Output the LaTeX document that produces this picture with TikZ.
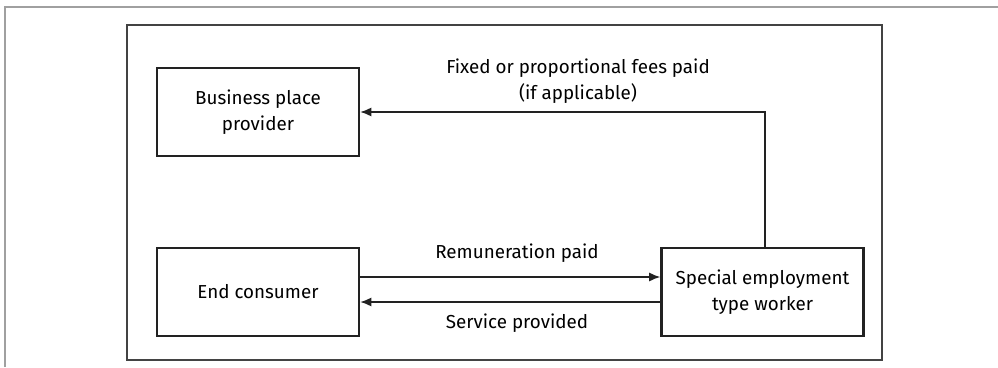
\documentclass[tikz,border=0pt]{standalone}
\usepackage{fontspec}
\setmainfont{Fira Sans}
\usetikzlibrary{arrows.meta}
\definecolor{frame}{HTML}{A0A0A0}
\definecolor{ink}{HTML}{222222}
\tikzset{
  boxnode/.style={draw=ink, line width=2.6pt, minimum width=202pt, minimum height=88pt, align=center, font=\fontsize{18.8}{25.5}\selectfont, inner sep=0pt},
  flow/.style={draw=ink, line width=1.3pt, -{Latex[length=11pt,width=9pt]}},
  lbl/.style={font=\fontsize{18.8}{25.5}\selectfont, align=center, inner sep=0pt}
}
\begin{document}
\begin{tikzpicture}[x=1pt,y=-1pt]
\useasboundingbox (0,0) rectangle (998,367);
% outer page frame
\draw[frame, line width=2pt] (5,367) -- (5,7) -- (998,7);
% inner frame
\draw[ink!85, line width=1.2pt] (127,25) rectangle (882,360);
% boxes
\node[boxnode] (bpp) at (258,112) {Business place\\provider};
\node[boxnode] (ec) at (258,292) {End consumer};
\node[boxnode] (sew) at (762.5,292) {Special employment\\type worker};
% fees connector
\coordinate (corner) at (765,112);
\draw[flow] (sew.north -| corner) -- (corner) -- (bpp.east);
\node[lbl] (fees) at (578,81) {Fixed or proportional fees paid\\(if applicable)};
% remuneration and service
\draw[flow] ([yshift=15pt]ec.east) -- ([yshift=15pt]ec.east -| sew.west);
\draw[flow] ([yshift=-10pt]sew.west) -- ([yshift=-10pt]sew.west -| ec.east);
\node[lbl] (rem) at (517,253) {Remuneration paid};
\node[lbl] (serv) at (517,323) {Service provided};
\end{tikzpicture}
\end{document}
